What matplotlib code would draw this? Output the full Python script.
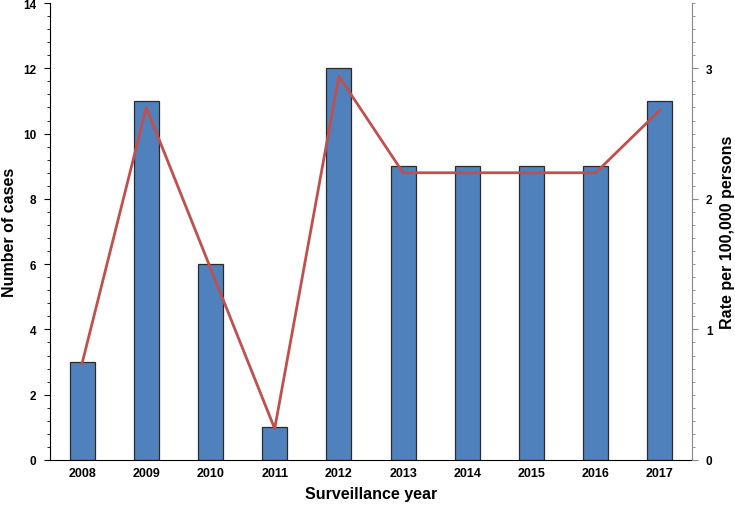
import matplotlib
matplotlib.use("Agg")
import matplotlib.pyplot as plt
from matplotlib.ticker import MultipleLocator

plt.rcParams['font.family'] = ['Liberation Sans', 'DejaVu Sans']
plt.rcParams['font.weight'] = 'bold'

# surveillance data
years = ['2008', '2009', '2010', '2011', '2012', '2013', '2014', '2015', '2016', '2017']
cases = [3, 11, 6, 1, 12, 9, 9, 9, 9, 11]
rates = [0.74, 2.70, 1.47, 0.24, 2.94, 2.20, 2.20, 2.20, 2.20, 2.68]

fig = plt.figure(figsize=(7.35, 5.06), dpi=100)
ax1 = fig.add_axes([0.068, 0.089, 0.8735, 0.903])

x = range(len(years))
ax1.bar(x, cases, width=0.39, color='#4F81BD', edgecolor='#2b2b2b', linewidth=0.9, zorder=2)
ax1.set_xlim(-0.5, len(years) - 0.5)
ax1.set_ylim(0, 14)
ax1.set_xticks(list(x))
ax1.set_xticklabels(years, fontsize=9, fontweight='bold')
ax1.tick_params(axis='x', length=0, pad=5)
ax1.yaxis.set_major_locator(MultipleLocator(2))
ax1.yaxis.set_minor_locator(MultipleLocator(0.4))
ax1.tick_params(axis='y', which='major', length=4, labelsize=8.5, pad=6)
ax1.tick_params(axis='y', which='minor', length=2)
for lbl in ax1.get_yticklabels():
    lbl.set_fontweight('bold')
ax1.spines['top'].set_visible(False)
ax1.spines['right'].set_visible(False)
ax1.set_ylabel('Number of cases', fontsize=11.5, fontweight='bold')
ax1.yaxis.set_label_coords(-0.051, 0.5)
ax1.set_xlabel('Surveillance year', fontsize=11.5, fontweight='bold', labelpad=5)

ax2 = ax1.twinx()
ax2.plot(list(x), rates, color='#C0504D', linewidth=2, zorder=3)
ax2.set_ylim(0, 3.5)
ax2.set_yticks([0, 1, 2, 3])
ax2.yaxis.set_minor_locator(MultipleLocator(0.1))
ax2.tick_params(axis='y', which='major', length=4, labelsize=8.5, pad=6, color='#888888')
ax2.tick_params(axis='y', which='minor', length=2, color='#888888')
for lbl in ax2.get_yticklabels():
    lbl.set_fontweight('bold')
ax2.spines['top'].set_visible(False)
ax2.spines['left'].set_visible(False)
ax2.spines['bottom'].set_visible(False)
ax2.spines['right'].set_color('#888888')
ax2.set_ylabel('Rate per 100,000 persons', fontsize=11.5, fontweight='bold')
ax2.yaxis.set_label_coords(1.043, 0.5)

fig.savefig('out.png', dpi=100)
